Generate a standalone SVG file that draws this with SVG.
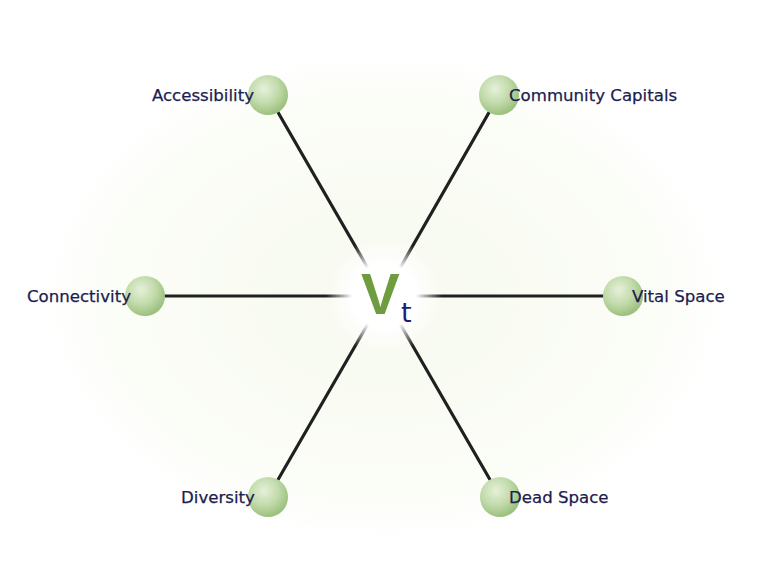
<svg xmlns="http://www.w3.org/2000/svg" width="769" height="567" viewBox="0 0 769 567">
<defs>
<radialGradient id="bg" cx="384" cy="296" r="340" gradientUnits="userSpaceOnUse" gradientTransform="translate(384 296) scale(1 0.72) translate(-384 -296)">
<stop offset="0" stop-color="#f7faef"/>
<stop offset="0.8" stop-color="#fbfdf7"/>
<stop offset="1" stop-color="#ffffff"/>
</radialGradient>
<radialGradient id="ball" cx="0.4" cy="0.35" r="0.65">
<stop offset="0" stop-color="#e6f0da"/>
<stop offset="0.55" stop-color="#c2dbab"/>
<stop offset="1" stop-color="#9cc07e"/>
</radialGradient>
<radialGradient id="fade" cx="384" cy="296" r="58" gradientUnits="userSpaceOnUse">
<stop offset="0" stop-color="#ffffff" stop-opacity="1"/>
<stop offset="0.55" stop-color="#ffffff" stop-opacity="1"/>
<stop offset="1" stop-color="#ffffff" stop-opacity="0"/>
</radialGradient>
<style>
.ln{stroke:#202020;stroke-width:3.2;stroke-linecap:round}
.lbl{font-family:"DejaVu Sans","Liberation Sans",sans-serif;font-size:16.6px;fill:#1c1c50;stroke:#1c1c50;stroke-width:0.25}
</style>
</defs>
<rect width="769" height="567" fill="#ffffff"/>
<ellipse cx="384" cy="296" rx="340" ry="245" fill="url(#bg)"/>
<g id="connectors">
<line class="ln" x1="384" y1="296" x2="268" y2="95"/>
<line class="ln" x1="384" y1="296" x2="499" y2="95"/>
<line class="ln" x1="384" y1="296" x2="145" y2="296"/>
<line class="ln" x1="384" y1="296" x2="623" y2="296"/>
<line class="ln" x1="384" y1="296" x2="268" y2="497"/>
<line class="ln" x1="384" y1="296" x2="500" y2="497"/>
</g>
<circle cx="384" cy="296" r="58" fill="url(#fade)"/>
<g id="center">
<text x="361" y="314" font-family="'Liberation Sans',sans-serif" font-weight="bold" font-size="58" fill="#6e9c3e">V</text>
<text x="401" y="322" font-family="'DejaVu Sans',sans-serif" font-size="27" fill="#1c1c78">t</text>
</g>
<g id="accessibility">
<circle cx="268" cy="95" r="20" fill="url(#ball)"/>
<text class="lbl" x="254" y="101" text-anchor="end">Accessibility</text>
</g>
<g id="community-capitals">
<circle cx="499" cy="95" r="20" fill="url(#ball)"/>
<text class="lbl" x="509" y="101">Community Capitals</text>
</g>
<g id="connectivity">
<circle cx="145" cy="296" r="20" fill="url(#ball)"/>
<text class="lbl" x="27" y="302">Connectivity</text>
</g>
<g id="vital-space">
<circle cx="623" cy="296" r="20" fill="url(#ball)"/>
<text class="lbl" x="632" y="302">Vital Space</text>
</g>
<g id="diversity">
<circle cx="268" cy="497" r="20" fill="url(#ball)"/>
<text class="lbl" x="181" y="503">Diversity</text>
</g>
<g id="dead-space">
<circle cx="500" cy="497" r="20" fill="url(#ball)"/>
<text class="lbl" x="509" y="503">Dead Space</text>
</g>
</svg>
